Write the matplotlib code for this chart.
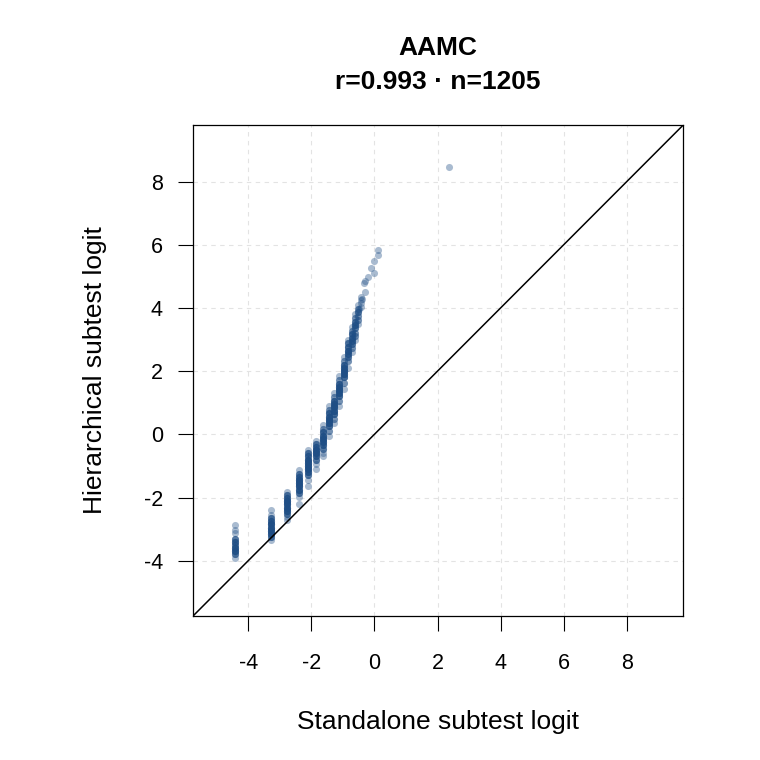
import numpy as np
import matplotlib
matplotlib.use("Agg")
import matplotlib.pyplot as plt

plt.rcParams['font.family'] = ['Liberation Sans', 'DejaVu Sans']

# standalone logit levels (one column of points per level)
col_x = [-4.41, -3.27, -2.76, -2.38, -2.10, -1.84, -1.62, -1.43,
         -1.27, -1.11, -0.97, -0.83, -0.70, -0.60, -0.51, -0.41]

# hierarchical logit values in each column, and how many points sit there
col_y = [
    [-2.88, -3.02, -3.12, -3.30, -3.40, -3.50, -3.60, -3.70, -3.80, -3.92],
    [-2.40, -2.55, -2.65, -2.75, -2.85, -2.95, -3.05, -3.15, -3.25, -3.33],
    [-1.82, -1.92, -2.02, -2.12, -2.22, -2.32, -2.42, -2.52, -2.62, -2.70],
    [-1.12, -1.25, -1.35, -1.45, -1.55, -1.65, -1.75, -1.85, -1.98, -2.20],
    [-0.50, -0.60, -0.70, -0.80, -0.90, -1.00, -1.10, -1.20, -1.30, -1.45, -1.65],
    [-0.20, -0.30, -0.40, -0.50, -0.60, -0.70, -0.80, -0.95, -1.10],
    [0.30, 0.18, 0.06, -0.05, -0.15, -0.25, -0.35, -0.45, -0.58, -0.70],
    [0.90, 0.78, 0.66, 0.55, 0.45, 0.35, 0.25, 0.12, -0.05],
    [1.30, 1.18, 1.06, 0.95, 0.85, 0.75, 0.65, 0.50, 0.35],
    [1.85, 1.72, 1.60, 1.50, 1.40, 1.30, 1.20, 1.05, 0.90],
    [2.45, 2.32, 2.20, 2.10, 2.00, 1.90, 1.80, 1.62, 1.45],
    [3.00, 2.88, 2.76, 2.65, 2.55, 2.45, 2.32, 2.10],
    [3.40, 3.28, 3.16, 3.05, 2.95, 2.85, 2.72, 2.60],
    [3.80, 3.68, 3.56, 3.45, 3.35, 3.22, 3.10, 3.00],
    [4.10, 3.98, 3.86, 3.75, 3.62, 3.50],
    [4.35, 4.25, 4.15, 4.02],
]
col_n = [
    [1, 1, 1, 3, 4, 3, 5, 5, 3, 1],
    [1, 1, 3, 4, 6, 6, 6, 5, 3, 1],
    [1, 3, 4, 6, 6, 6, 5, 3, 1, 1],
    [1, 3, 4, 6, 6, 6, 5, 3, 1, 1],
    [1, 3, 4, 6, 6, 6, 6, 4, 3, 1, 1],
    [1, 3, 4, 6, 6, 4, 3, 1, 1],
    [1, 2, 4, 5, 6, 5, 4, 3, 1, 1],
    [1, 2, 4, 5, 6, 5, 4, 2, 1],
    [1, 2, 4, 5, 6, 5, 4, 2, 1],
    [1, 2, 4, 5, 6, 5, 4, 2, 1],
    [1, 2, 4, 5, 6, 5, 4, 2, 1],
    [1, 3, 4, 5, 4, 3, 2, 1],
    [1, 2, 4, 4, 4, 3, 2, 1],
    [1, 2, 3, 4, 3, 2, 2, 1],
    [1, 2, 3, 2, 2, 1],
    [1, 1, 1, 1],
]

# sparse points at the top end
extra_x = [0.10, 0.10, 0.00, -0.10, 0.00, -0.19, -0.29, -0.33, -0.29, -0.38, -0.48, 2.38]
extra_y = [5.82, 5.69, 5.49, 5.27, 5.11, 4.98, 4.86, 4.80, 4.51, 4.29, 3.97, 8.47]

title = "AAMC\nr=0.993 \u00b7 n=1205"
ticks = [-4, -2, 0, 2, 4, 6, 8]
lims = (-5.75, 9.79)

xs, ys = [], []
for cx, cy, cn in zip(col_x, col_y, col_n):
    ys.extend(np.repeat(cy, cn))
    xs.extend([cx] * int(np.sum(cn)))
xs = np.array(xs + extra_x)
ys = np.array(ys + extra_y)

fig = plt.figure(figsize=(7.6, 7.6), dpi=100)
ax = fig.add_axes([0.254, 0.1895, 0.645, 0.646])

# grid
for t in ticks:
    ax.axvline(t, color='#e3e3e3', lw=0.8, ls=(0, (4, 4)), zorder=0)
    ax.axhline(t, color='#e3e3e3', lw=0.8, ls=(0, (4, 4)), zorder=0)

ax.scatter(xs, ys, s=26, color='#1f4e85', alpha=0.38, linewidths=0, zorder=2)
ax.plot(lims, lims, color='black', lw=1.1, zorder=3)

ax.set_xlim(lims)
ax.set_ylim(lims)
ax.set_xticks(ticks)
ax.set_yticks(ticks)
ax.set_xticklabels([str(t) for t in ticks])
ax.set_yticklabels([str(t) for t in ticks])
ax.tick_params(direction='out', length=10.8, width=0.8, labelsize=15.5)
ax.tick_params(axis='x', pad=16)
ax.tick_params(axis='y', pad=11)
for sp in ax.spines.values():
    sp.set_linewidth(0.9)

ax.set_xlabel("Standalone subtest logit", fontsize=19, labelpad=25.5)
ax.set_ylabel("Hierarchical subtest logit", fontsize=19, labelpad=26)
ax.set_title(title, fontsize=19, fontweight='bold', pad=26, linespacing=1.5)

fig.savefig("out.png", dpi=100)
